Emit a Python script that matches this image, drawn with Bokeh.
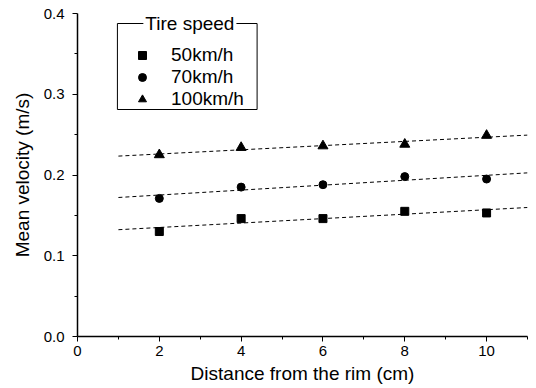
import numpy as np
from bokeh.plotting import figure
from bokeh.models import Legend, LegendItem, FixedTicker, NumeralTickFormatter, Range1d, Label, BoxAnnotation
from bokeh.embed import file_html
from bokeh.resources import INLINE

x = [2, 4, 6, 8, 10]
v50 = [0.130, 0.146, 0.146, 0.155, 0.153]
v70 = [0.171, 0.185, 0.188, 0.198, 0.195]
v100 = [0.225, 0.234, 0.236, 0.238, 0.249]
labels = ["50km/h", "70km/h", "100km/h"]
legend_title = "Tire speed"
fit_x = [1, 11]

FONT = "Liberation Sans"

p = figure(width=536, height=388, output_backend="svg", toolbar_location=None,
           x_range=Range1d(0, 11), y_range=Range1d(0, 0.4),
           min_border_left=77, min_border_right=9, min_border_top=13, min_border_bottom=52)
p.outline_line_color = None
p.xgrid.visible = False
p.ygrid.visible = False

# pixel -> data helpers for placing the legend frame (frame: x 77..528, y 13..336)
def px_x(px):
    return (px - 77) / 41.0
def px_y(py):
    return 0.4 * (336 - py) / 323.0

# legend frame drawn beneath, so the title can sit on its top border
p.add_layout(BoxAnnotation(left=px_x(117), right=px_x(257), top=px_y(23), bottom=px_y(109),
                           fill_color="white", fill_alpha=1, line_color="black",
                           line_width=1, line_alpha=1, level="underlay"))

xs = np.array(x)
items = []
markers = ["square", "circle", "triangle"]
sizes = [8, 8, 10]
for vals, lab, mk, sz in zip([v50, v70, v100], labels, markers, sizes):
    k, b = np.polyfit(xs, np.array(vals), 1)
    fx = np.array(fit_x)
    p.line(fx, k * fx + b, line_color="black", line_width=1, line_dash="4 3")
    r = p.scatter(x, vals, marker=mk, size=sz, fill_color="black", line_color="black")
    items.append(LegendItem(label=lab, renderers=[r]))

legend = Legend(items=items, location=(40, 220),
                border_line_alpha=0, background_fill_alpha=0,
                label_text_font=FONT, label_text_font_size="19px", label_text_color="black",
                label_height=20, glyph_height=20, glyph_width=38, spacing=0,
                label_width=80, padding=6, margin=0, label_standoff=10)
p.add_layout(legend, "center")

title_lbl = Label(x=px_x(143), y=px_y(23), text=legend_title,
                  text_font=FONT, text_font_size="19px", text_font_style="normal",
                  text_baseline="middle",
                  text_color="black", background_fill_color="white", background_fill_alpha=1,
                  padding=2, level="overlay")
p.add_layout(title_lbl)

p.xaxis.ticker = FixedTicker(ticks=[0, 2, 4, 6, 8, 10], minor_ticks=[1, 3, 5, 7, 9, 11])
p.yaxis.ticker = FixedTicker(ticks=[0, 0.1, 0.2, 0.3, 0.4], minor_ticks=[0.05, 0.15, 0.25, 0.35])
p.yaxis.formatter = NumeralTickFormatter(format="0.0")
p.xaxis.axis_label = "Distance from the rim (cm)"
p.yaxis.axis_label = "Mean velocity (m/s)"
for ax in [p.xaxis[0], p.yaxis[0]]:
    ax.axis_line_width = 1.5
    ax.axis_line_color = "black"
    ax.major_tick_line_color = "black"
    ax.minor_tick_line_color = "black"
    ax.major_tick_out = 5
    ax.major_tick_in = 0
    ax.minor_tick_out = 3
    ax.minor_tick_in = 0
    ax.major_label_text_font = FONT
    ax.major_label_text_font_size = "15px"
    ax.major_label_text_color = "black"
    ax.axis_label_text_font = FONT
    ax.axis_label_text_font_size = "19px"
    ax.axis_label_text_font_style = "normal"
    ax.axis_label_text_color = "black"
p.yaxis.major_label_standoff = 8
p.xaxis.major_label_standoff = 4
p.xaxis.axis_label_standoff = 4
p.yaxis.axis_label_standoff = 8

open("out.html", "w").write(file_html(p, INLINE))
